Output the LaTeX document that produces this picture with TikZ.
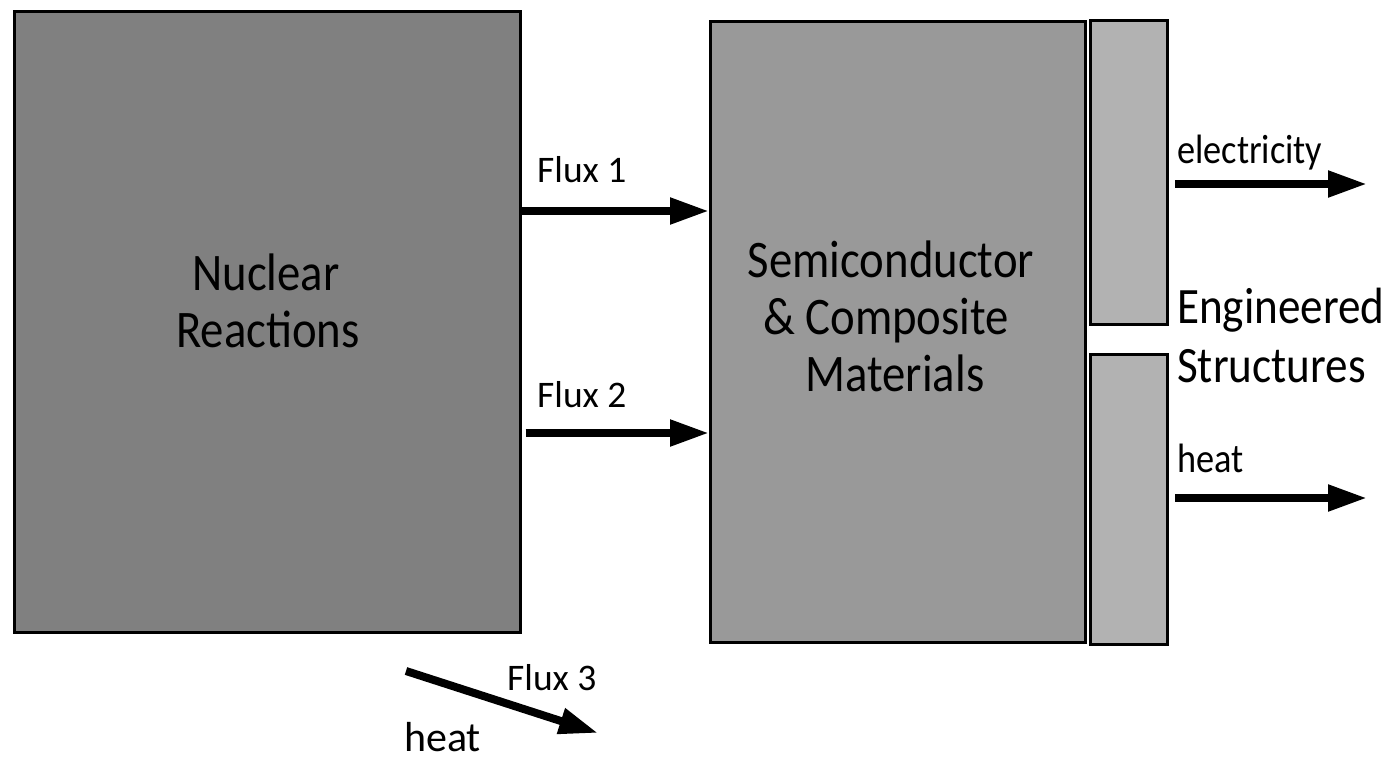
\documentclass[tikz,border=0pt]{standalone}
\usepackage{fontspec}
\setmainfont{Carlito}
\newfontfamily\condfont[FakeStretch=0.885]{Carlito}
\usetikzlibrary{arrows.meta}
\tikzset{
  blk/.style={draw=black, line width=2.5pt, rectangle, inner sep=0pt, anchor=north west},
  flow/.style={line width=8pt, -{Triangle[length=39pt,width=25pt]}},
  big/.style={font=\condfont\fontsize{52.8}{57}\selectfont, inner sep=0pt, anchor=base},
  bigw/.style={font=\condfont\fontsize{51}{57}\selectfont, inner sep=0pt, anchor=base west},
  small/.style={font=\condfont\fontsize{41}{45}\selectfont, inner sep=0pt, anchor=base west},
  fluxlbl/.style={font=\fontsize{37.5}{42}\selectfont, inner sep=0pt, anchor=base west},
}
\begin{document}
\begin{tikzpicture}[x=1pt,y=-1pt]
\useasboundingbox (0,0) rectangle (1395,764);
% boxes
\node[blk, fill={rgb,255:red,128;green,128;blue,128}, minimum width=506pt, minimum height=621pt] (nr) at (13,10) {};
\node[blk, fill={rgb,255:red,153;green,153;blue,153}, minimum width=375pt, minimum height=621pt] (sc) at (709,20) {};
\node[blk, fill={rgb,255:red,178;green,178;blue,178}, minimum width=77pt, minimum height=304pt] (es1) at (1089,19) {};
\node[blk, fill={rgb,255:red,178;green,178;blue,178}, minimum width=77pt, minimum height=290pt] (es2) at (1089,353) {};
% box texts
\node[big] (nr1) at (266,290) {Nuclear};
\node[big] (nr2) at (268,347) {Reactions};
\node[big] (sc1) at (891,277) {Semiconductor};
\node[big] (sc2) at (886,334) {\& Composite};
\node[big] (sc3) at (895,391) {Materials};
\node[bigw] (es3) at (1177,323) {Engineered};
\node[bigw] (es4) at (1177,382) {Structures};
% flux arrows
\node[fluxlbl] (f1) at (537,182) {Flux 1};
\node[fluxlbl] (f2) at (537,407) {Flux 2};
\draw[flow] (nr.east |- 0,211) -- (sc.west |- 0,211);
\draw[flow] ([xshift=4pt]nr.east |- 0,433) -- (sc.west |- 0,433);
% outputs
\coordinate (e1) at (1175,184);
\coordinate (e2) at (1367,184);
\coordinate (h1) at (1175,498);
\coordinate (h2) at (1367,498);
\node[small] (el) at (1177,163) {electricity};
\node[small] (ht) at (1177,472) {heat};
\draw[flow] (e1) -- (e2);
\draw[flow] (h1) -- (h2);
% flux 3
\coordinate (f3a) at (406,671);
\coordinate (f3b) at (598,733);
\draw[flow] (f3a) -- (f3b);
\node[fluxlbl] (f3) at (507,690) {Flux 3};
\node[font=\fontsize{42}{46}\selectfont, inner sep=0pt, anchor=base west] (ht2) at (404,751) {heat};
\end{tikzpicture}
\end{document}
